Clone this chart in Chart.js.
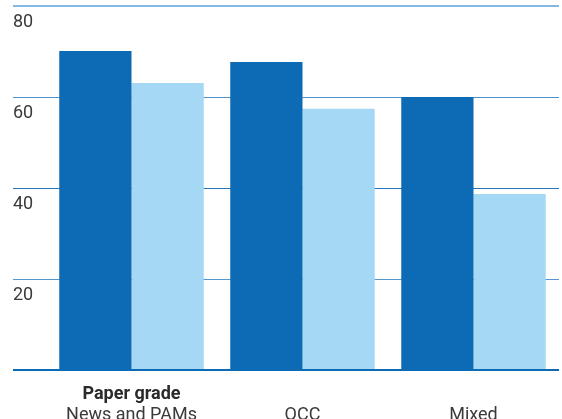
<!DOCTYPE html>
<html>
<head>
<meta charset="utf-8">
<script src="https://cdn.jsdelivr.net/npm/chart.js@4/dist/chart.umd.min.js"></script>
<style>
  html, body { margin: 0; padding: 0; background: #ffffff; overflow: hidden; }
  #wrap { position: relative; width: 562px; height: 432px; }
</style>
</head>
<body>
<div id="wrap"><canvas id="chart"></canvas></div>
<script>
// Categories and series
const groupHeading = 'Paper grade';
const categories = ['News and PAMs', 'OCC', 'Mixed'];
const darkSeries = [70.1, 67.7, 60.0];
const lightSeries = [63.1, 57.4, 38.7];
const yTicks = [0, 20, 40, 60, 80];

const FONT = 'Roboto, "Noto Sans", sans-serif';
const TEXT = '#3a3a3a';

// Grid line styling per tick value
const gridColors = { 0: '#0c6bb4', 20: '#5696cf', 40: '#2374bb', 60: '#4d90cc', 80: '#84b9e3' };
const gridWidths = { 0: 2, 20: 1, 40: 1, 60: 1, 80: 2 };

// Bold heading above the first category label
const headingPlugin = {
  id: 'groupHeading',
  afterDraw(chart) {
    const x = chart.scales.x;
    const ctx = chart.ctx;
    ctx.save();
    ctx.font = 'bold 18px ' + FONT;
    ctx.fillStyle = '#2a2a2a';
    ctx.textAlign = 'center';
    ctx.textBaseline = 'alphabetic';
    ctx.fillText(groupHeading, x.getPixelForValue(0), 399);
    ctx.restore();
  }
};

new Chart(document.getElementById('chart'), {
  type: 'bar',
  data: {
    labels: categories,
    datasets: [
      { data: darkSeries, backgroundColor: '#0c6bb4', borderWidth: 0 },
      { data: lightSeries, backgroundColor: '#a4d8f4', borderWidth: 0 }
    ]
  },
  options: {
    responsive: true,
    maintainAspectRatio: false,
    animation: false,
    devicePixelRatio: 1,
    layout: { padding: { left: 13, top: 6, right: 3, bottom: 0 } },
    plugins: { legend: { display: false }, tooltip: { enabled: false } },
    datasets: { bar: { barPercentage: 1, categoryPercentage: 0.845 } },
    scales: {
      x: {
        offset: true,
        grid: { display: false, drawTicks: false },
        border: { display: false },
        ticks: { font: { family: FONT, size: 18 }, color: TEXT, padding: 35, maxRotation: 0 },
        afterFit(scale) { scale.height = 62; scale.paddingLeft = 0; scale.paddingRight = 0; }
      },
      y: {
        min: 0,
        max: 80,
        afterBuildTicks(scale) { scale.ticks = yTicks.map(v => ({ value: v })); },
        grid: {
          drawTicks: true,
          tickLength: 33,
          color: ctx => gridColors[ctx.tick.value] || '#4d90cc',
          lineWidth: ctx => gridWidths[ctx.tick.value] || 1
        },
        border: { display: false },
        ticks: {
          font: { family: FONT, size: 18 },
          color: TEXT,
          crossAlign: 'far',
          padding: 0,
          labelOffset: 16,
          callback: v => (v === 0 ? '' : String(v))
        },
        afterFit(scale) { scale.width = 33; scale.paddingTop = 0; scale.paddingBottom = 0; }
      }
    }
  },
  plugins: [headingPlugin]
});
</script>
</body>
</html>
